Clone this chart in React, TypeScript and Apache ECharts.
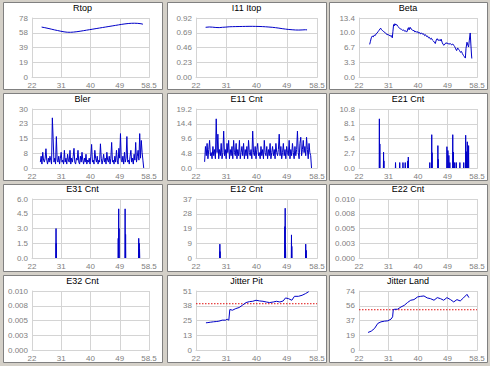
import React, { useEffect, useRef } from 'react';
import * as echarts from 'echarts';

// ---------- data ----------
const xTickLabels = ['22', '31', '40', '49', '58.5'];
const X_MIN = 22;
const X_MAX = 58.5;

const panelTitles = ['Rtop', 'I11 Itop', 'Beta', 'Bler', 'E11 Cnt', 'E21 Cnt', 'E31 Cnt', 'E12 Cnt', 'E22 Cnt', 'E32 Cnt', 'Jitter Pit', 'Jitter Land'];
const yMaxes = [78, 0.92, 13.4, 30, 19.2, 10.8, 6, 37, 0.01, 0.01, 51, 74];
const yTickLabels = [
  ['0', '19', '39', '58', '78'],
  ['0.00', '0.23', '0.46', '0.69', '0.92'],
  ['0.0', '3.3', '6.7', '10.0', '13.4'],
  ['0', '8', '15', '23', '30'],
  ['0.0', '4.8', '9.6', '14.4', '19.2'],
  ['0.0', '2.7', '5.4', '8.1', '10.8'],
  ['0.0', '1.5', '3.0', '4.5', '6.0'],
  ['0', '9', '19', '28', '37'],
  ['0.000', '0.003', '0.005', '0.008', '0.010'],
  ['0.000', '0.003', '0.005', '0.008', '0.010'],
  ['0', '13', '25', '38', '51'],
  ['0', '19', '37', '56', '74'],
];

const rtop = [[25, 66], [26, 65.2], [27, 64.3], [28, 63.3], [29, 62.3], [30, 61.4], [31, 60.5], [32, 59.7], [33, 59.2], [34, 59.1], [35, 59.4], [36, 59.9], [37, 60.5], [38, 61.2], [39, 61.9], [40, 62.6], [41, 63.3], [42, 64.0], [43, 64.7], [44, 65.4], [45, 66.1], [46, 66.8], [47, 67.5], [48, 68.2], [49, 68.9], [50, 69.6], [51, 70.2], [52, 70.7], [53, 71.0], [54, 71.1], [55, 70.9], [56, 70.4], [56.6, 69.8]];

const i11Itop = [[24.9, 0.775], [26, 0.78], [27, 0.777], [28, 0.772], [29, 0.77], [30, 0.775], [31, 0.778], [32, 0.783], [33, 0.785], [34, 0.786], [35, 0.787], [36, 0.788], [37, 0.789], [38, 0.79], [39, 0.79], [40, 0.789], [41, 0.788], [42, 0.786], [43, 0.783], [44, 0.779], [45, 0.775], [46, 0.769], [47, 0.762], [48, 0.754], [49, 0.747], [50, 0.741], [51, 0.737], [52, 0.733], [53, 0.732], [54, 0.734], [55, 0.737], [55.5, 0.735]];

const beta = [[25.3, 7.4], [25.5, 8.0], [25.8, 8.9], [26.1, 9.3], [26.4, 9.1], [26.7, 9.5], [27.0, 9.4], [27.3, 9.8], [27.6, 10.0], [27.9, 10.3], [28.2, 10.6], [28.5, 10.9], [28.7, 11.1], [28.9, 10.8], [29.2, 10.6], [29.5, 10.4], [29.8, 10.2], [30.1, 10.1], [30.4, 9.8], [30.7, 9.6], [31.0, 9.7], [31.3, 9.4], [31.6, 9.5], [31.9, 9.2], [32.1, 9.4], [32.3, 8.9], [32.5, 10.4], [32.7, 11.9], [32.9, 11.6], [33.1, 12.1], [33.4, 11.8], [33.7, 11.9], [34.0, 11.5], [34.3, 11.3], [34.6, 11.0], [34.9, 10.9], [35.2, 10.8], [35.5, 10.6], [35.8, 10.7], [36.1, 10.4], [36.4, 10.5], [36.7, 10.2], [36.9, 10.4], [37.1, 10.9], [37.3, 11.2], [37.5, 10.7], [37.8, 11.3], [38.1, 10.9], [38.4, 10.8], [38.7, 10.5], [39.0, 10.6], [39.3, 10.2], [39.6, 10.4], [39.9, 10.1], [40.2, 10.3], [40.5, 9.9], [40.8, 10.1], [41.1, 9.8], [41.4, 10.0], [41.7, 9.7], [42.0, 9.8], [42.3, 9.4], [42.6, 9.6], [42.9, 9.2], [43.2, 9.3], [43.5, 8.9], [43.8, 9.0], [44.1, 8.6], [44.4, 8.8], [44.7, 8.4], [45.0, 8.2], [45.3, 7.9], [45.6, 7.6], [45.9, 8.4], [46.2, 8.7], [46.5, 8.3], [46.8, 8.5], [47.1, 8.2], [47.4, 8.6], [47.7, 7.9], [48.0, 7.4], [48.3, 7.2], [48.6, 7.5], [48.9, 7.8], [49.2, 7.6], [49.5, 7.7], [49.8, 7.4], [50.1, 7.6], [50.4, 7.5], [50.7, 7.3], [51.0, 7.5], [51.3, 7.2], [51.6, 6.9], [51.9, 6.4], [52.2, 6.0], [52.5, 6.6], [52.8, 6.3], [53.1, 6.0], [53.4, 5.6], [53.7, 5.8], [54.0, 5.3], [54.3, 4.9], [54.6, 4.6], [54.9, 4.3], [55.1, 6.5], [55.4, 7.9], [55.7, 7.2], [55.9, 6.8], [56.1, 8.2], [56.4, 10.0], [56.6, 7.5], [56.8, 5.0], [56.9, 4.2]];

// dense sampled series: first x and spacing, then values
const blerStart = 24.6;
const blerStep = 0.25;
const bler = [
  3, 6, 2, 8, 4, 3, 5, 9.8, 4, 2,
  5, 3, 6, 4, 2, 25.5, 15, 3, 5, 2,
  16, 4, 3, 6, 2, 5, 8, 3, 4, 2,
  9, 3, 5, 2, 7, 4, 3, 9, 2, 5,
  3, 6, 10, 3, 2, 5, 4, 9, 3, 2,
  6, 3, 8, 4, 2, 5, 3, 7, 2, 4,
  3, 5, 2, 6, 12, 3, 4, 2, 9, 5,
  3, 6, 2, 4, 3, 12.3, 5, 2, 4, 7,
  3, 5, 2, 8, 4, 3, 6, 2, 5, 13,
  3, 4, 2, 6, 3, 9, 4, 2, 10, 5,
  17.5, 4, 3, 6, 2, 8, 3, 5, 16, 3,
  4, 2, 6, 9, 3, 5, 2, 7, 4, 13,
  3, 6, 9, 4, 17.5, 5, 14, 8, 4, 0,
];

const e11Start = 24.6;
const e11Step = 0.25;
const e11 = [
  2, 7, 4, 8, 3, 6, 9, 4, 5, 3,
  7, 4, 6, 3, 16, 5, 11, 3, 6, 4,
  8, 3, 5, 12, 4, 6, 3, 8, 5, 9,
  3, 6, 4, 7, 3, 9, 5, 4, 8, 3,
  6, 4, 9, 3, 5, 7, 4, 8, 3, 6,
  4, 7, 3, 9, 5, 4, 6, 3, 12, 5,
  4, 7, 3, 6, 8, 4, 5, 3, 7, 4,
  6, 3, 9, 5, 4, 7, 3, 6, 4, 8,
  3, 5, 7, 4, 6, 3, 8, 5, 4, 6,
  11, 4, 7, 3, 5, 8, 4, 6, 3, 7,
  5, 4, 9, 3, 6, 4, 8, 5, 3, 7,
  4, 6, 12, 5, 3, 8, 10, 4, 6, 9,
  5, 7, 4, 10, 6, 3, 8, 5, 4, 0,
];

// spike events: [x, count]
const e21Spikes = [[28.3, 9.0], [28.45, 4.4], [29.6, 2.9], [29.7, 1.3], [33.3, 1.0], [34.6, 1.0], [35.6, 1.0], [36.3, 1.0], [37.1, 1.3], [37.25, 2.0], [43.9, 1.0], [44.5, 6.1], [44.6, 2.8], [46.4, 4.1], [46.5, 1.6], [49.2, 3.9], [49.5, 3.2], [49.8, 2.3], [50.1, 1.0], [51.0, 6.1], [51.2, 2.9], [51.6, 1.0], [52.1, 1.0], [53.2, 1.0], [54.4, 1.0], [55.0, 6.0], [55.2, 3.0], [55.5, 4.8], [55.9, 4.1]];
const e31Spikes = [[29.5, 3.0], [29.55, 1.5], [48.9, 2.0], [49.05, 5.0], [49.15, 3.0], [51.05, 5.0], [51.2, 2.4], [55.3, 2.0], [55.45, 1.5], [55.55, 0.9]];
const e12Spikes = [[29.2, 8.7], [29.25, 4.0], [48.8, 19.7], [48.9, 31.2], [49.0, 8.0], [50.8, 14.5], [50.9, 7.3], [55.1, 8.7], [55.25, 4.8]];
const e22Data: number[][] = [];
const e32Data: number[][] = [];

const jitterPit = [[25, 23.5], [25.6, 23.7], [26.3, 24.0], [27.3, 24.4], [28.1, 24.6], [28.9, 24.9], [29.9, 25.8], [30.9, 25.8], [31.4, 26.6], [31.9, 25.8], [32.2, 35.0], [33, 34.4], [34, 35.8], [35, 36.7], [36, 38.7], [37.1, 41.0], [38.1, 41.8], [39.1, 42.1], [40.1, 43.0], [41.2, 42.4], [42.2, 42.1], [43.2, 41.5], [44.2, 41.0], [45.3, 41.5], [46.3, 42.1], [47.3, 41.5], [48.3, 42.4], [49.0, 45.0], [49.9, 44.4], [50.9, 43.0], [51.7, 46.4], [52.9, 46.4], [54.0, 47.3], [55.0, 48.7], [56.0, 50.4]];
const jitterPitRef = 40;

const jitterLand = [[24.8, 22.0], [25.8, 23.7], [26.8, 27.0], [27.8, 33.3], [28.8, 35.3], [29.9, 36.2], [30.9, 36.6], [31.9, 38.7], [32.4, 41.6], [32.6, 50.7], [33.1, 51.1], [33.9, 51.1], [35.0, 54.0], [36.0, 56.0], [37.0, 59.5], [38.0, 62.4], [39.0, 63.2], [40.1, 66.5], [41.1, 67.3], [42.1, 67.8], [43.1, 65.3], [44.1, 64.4], [45.2, 62.4], [46.2, 65.7], [47.2, 64.4], [48.2, 62.4], [49.2, 65.7], [50.3, 63.2], [51.3, 60.3], [52.3, 63.2], [53.3, 61.5], [54.3, 65.3], [55.4, 69.8], [56.0, 65.7]];
const jitterLandRef = 50.5;

// ---------- helpers ----------
const sampled = (start: number, step: number, vals: number[]) => vals.map((v, i) => [start + i * step, v]);
const spikes = (list: number[][]) => {
  const out: any[] = [];
  list.forEach(([x, v]) => {
    out.push([x - 0.06, 0], [x, v], [x + 0.06, 0], [x + 0.06, '-']);
  });
  return out;
};

const seriesData: any[][] = [
  rtop, i11Itop, beta,
  sampled(blerStart, blerStep, bler), sampled(e11Start, e11Step, e11), spikes(e21Spikes),
  spikes(e31Spikes), spikes(e12Spikes), e22Data,
  e32Data, jitterPit, jitterLand,
];
const refLines: (number | null)[] = [null, null, null, null, null, null, null, null, null, null, jitterPitRef, jitterLandRef];

// ---------- layout ----------
const panelX = [3, 167, 329];
const panelW = [159, 159, 158];
const panelY = [2, 93, 184, 275];
const panelH = 87;
const plotX = [[32, 149], [196, 317], [359, 477]];
const plotTop = [18, 109, 199, 291];
const plotH = 59;

const FONT = '"Liberation Sans", Arial, sans-serif';
const LINE_COLOR = '#0000c8';
const GRID_COLOR = '#d4d4d4';
const REF_COLOR = '#e01010';

export default function App() {
  const ref = useRef<HTMLDivElement>(null);
  useEffect(() => {
    if (!ref.current) return;
    const chart = echarts.init(ref.current, undefined, { renderer: 'svg' });
    const grids: any[] = [];
    const xAxes: any[] = [];
    const yAxes: any[] = [];
    const series: any[] = [];
    const titles: any[] = [];
    const graphics: any[] = [];
    for (let i = 0; i < 12; i++) {
      const r = Math.floor(i / 3);
      const c = i % 3;
      graphics.push({
        type: 'rect',
        silent: true,
        z: -10,
        shape: { x: panelX[c] + 0.5, y: panelY[r] + 0.5, width: panelW[c], height: panelH },
        style: { fill: '#ffffff', stroke: '#808080', lineWidth: 1 },
      });
      grids.push({ left: plotX[c][0], top: plotTop[r], width: plotX[c][1] - plotX[c][0], height: plotH, show: false });
      titles.push({
        text: panelTitles[i],
        left: panelX[c] + panelW[c] / 2,
        top: plotTop[r] - 15,
        textAlign: 'center',
        textStyle: { fontSize: 9, fontWeight: 'normal', color: '#000', fontFamily: FONT },
        padding: 0,
      });
      const xInt = (X_MAX - X_MIN) / 4;
      xAxes.push({
        type: 'value', gridIndex: i, min: X_MIN, max: X_MAX, interval: xInt,
        axisLine: { show: true, lineStyle: { color: GRID_COLOR } },
        axisTick: { show: false },
        splitLine: { show: true, lineStyle: { color: GRID_COLOR } },
        axisLabel: {
          color: '#808080', fontSize: 8, fontFamily: FONT, margin: 4,
          showMinLabel: true, showMaxLabel: true,
          formatter: (v: number) => xTickLabels[Math.round((v - X_MIN) / xInt)] ?? '',
        },
      });
      const yMax = yMaxes[i];
      const yInt = yMax / 4;
      const labs = yTickLabels[i];
      yAxes.push({
        type: 'value', gridIndex: i, min: 0, max: yMax, interval: yInt,
        axisLine: { show: true, lineStyle: { color: GRID_COLOR } },
        axisTick: { show: false },
        splitLine: { show: true, lineStyle: { color: GRID_COLOR } },
        axisLabel: {
          color: '#808080', fontSize: 8, fontFamily: FONT, margin: 4,
          showMinLabel: true, showMaxLabel: true,
          formatter: (v: number) => labs[Math.round(v / yInt)] ?? '',
        },
      });
      graphics.push({
        type: 'rect', silent: true, z: 5,
        shape: { x: plotX[c][0] + 0.5, y: plotTop[r] + 0.5, width: plotX[c][1] - plotX[c][0], height: plotH },
        style: { fill: 'none', stroke: GRID_COLOR, lineWidth: 1 },
      });
      const refVal = refLines[i];
      if (refVal !== null) {
        series.push({
          type: 'line', xAxisIndex: i, yAxisIndex: i,
          data: [[X_MIN, refVal], [X_MAX, refVal]],
          showSymbol: false, symbol: 'none', silent: true,
          itemStyle: { color: REF_COLOR },
          lineStyle: { color: REF_COLOR, type: [1.5, 1.5], width: 1 },
          z: 8,
        });
      }
      series.push({
        type: 'line', xAxisIndex: i, yAxisIndex: i, data: seriesData[i],
        showSymbol: false, symbol: 'none', connectNulls: false,
        itemStyle: { color: LINE_COLOR },
        lineStyle: { color: LINE_COLOR, width: 1 },
        z: 10,
      });
    }
    chart.setOption({
      animation: false,
      backgroundColor: '#d4d0c8',
      title: titles,
      grid: grids,
      xAxis: xAxes,
      yAxis: yAxes,
      series,
      graphic: graphics,
    });
    return () => chart.dispose();
  }, []);
  return <div ref={ref} style={{ position: 'absolute', left: 0, top: 0, width: 490, height: 366 }} />;
}
